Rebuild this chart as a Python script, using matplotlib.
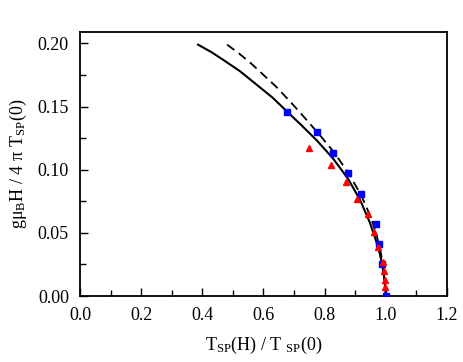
import matplotlib
matplotlib.use("Agg")
import matplotlib.pyplot as plt
from matplotlib.ticker import MultipleLocator

plt.rcParams['font.family'] = ['Liberation Serif', 'DejaVu Serif']
plt.rcParams['mathtext.fontset'] = 'custom'
plt.rcParams['mathtext.rm'] = 'Liberation Serif'
plt.rcParams['mathtext.it'] = 'Liberation Serif'

# data
blue_x = [0.677, 0.775, 0.827, 0.876, 0.919, 0.968, 0.978, 0.988, 1.000]
blue_y = [0.146, 0.130, 0.113, 0.097, 0.081, 0.057, 0.041, 0.025, 0.000]
red_x = [0.749, 0.821, 0.870, 0.906, 0.942, 0.962, 0.975, 0.991, 0.994, 0.998, 0.998]
red_y = [0.117, 0.104, 0.090, 0.077, 0.065, 0.051, 0.039, 0.027, 0.020, 0.013, 0.007]
solid_x = [0.386, 0.430, 0.468, 0.523, 0.579, 0.630, 0.677, 0.725, 0.775, 0.827,
           0.876, 0.916, 0.948, 0.965, 0.978, 0.988, 0.995, 1.000]
solid_y = [0.199, 0.193, 0.187, 0.178, 0.167, 0.157, 0.146, 0.135, 0.123, 0.109,
           0.093, 0.076, 0.058, 0.046, 0.036, 0.025, 0.014, 0.000]
dash_x = [0.481, 0.520, 0.560, 0.600, 0.640, 0.687, 0.735, 0.782, 0.830, 0.876,
          0.919, 0.950, 0.970, 0.984, 0.993, 1.000]
dash_y = [0.199, 0.192, 0.184, 0.175, 0.166, 0.154, 0.141, 0.128, 0.114, 0.098,
          0.080, 0.063, 0.048, 0.034, 0.020, 0.000]

fig = plt.figure(figsize=(4.63, 3.62), dpi=100)
ax = fig.add_axes([0.1728, 0.1823, 0.7926, 0.7293])

ax.plot(solid_x, solid_y, color='black', lw=1.5, zorder=2)
ax.plot(dash_x, dash_y, color='black', lw=1.3, ls=(0, (5, 3)), zorder=2)
ax.plot(blue_x, blue_y, 's', color='#0000ff', ms=4.4, mec='#0000ff', zorder=3)
ax.plot(red_x, red_y, '^', color='#ff0000', ms=4.8, mec='#ff0000', zorder=3)

ax.set_xlim(0, 1.2)
ax.set_ylim(0, 0.209)
ax.xaxis.set_major_locator(MultipleLocator(0.2))
ax.xaxis.set_minor_locator(MultipleLocator(0.1))
ax.yaxis.set_major_locator(MultipleLocator(0.05))
ax.yaxis.set_minor_locator(MultipleLocator(0.025))
ax.xaxis.set_major_formatter(matplotlib.ticker.FormatStrFormatter('%.1f'))
ax.yaxis.set_major_formatter(matplotlib.ticker.FormatStrFormatter('%.2f'))
ax.tick_params(which='both', direction='in', top=False, right=False, labelsize=13, width=1.0, pad=8)
ax.tick_params(which='major', length=6)
ax.tick_params(which='minor', length=4)
for s in ax.spines.values():
    s.set_linewidth(1.3)

ax.set_xlabel(r'$\mathregular{T_{SP}(H)\ /\ T\ _{SP}(0)}$', fontsize=13, labelpad=8)
ax.set_ylabel(r'$\mathregular{g\mu_{B}H\ /\ 4\ \pi\ T_{SP}(0)}$', fontsize=13, labelpad=6)

fig.savefig('out.png', dpi=100)
